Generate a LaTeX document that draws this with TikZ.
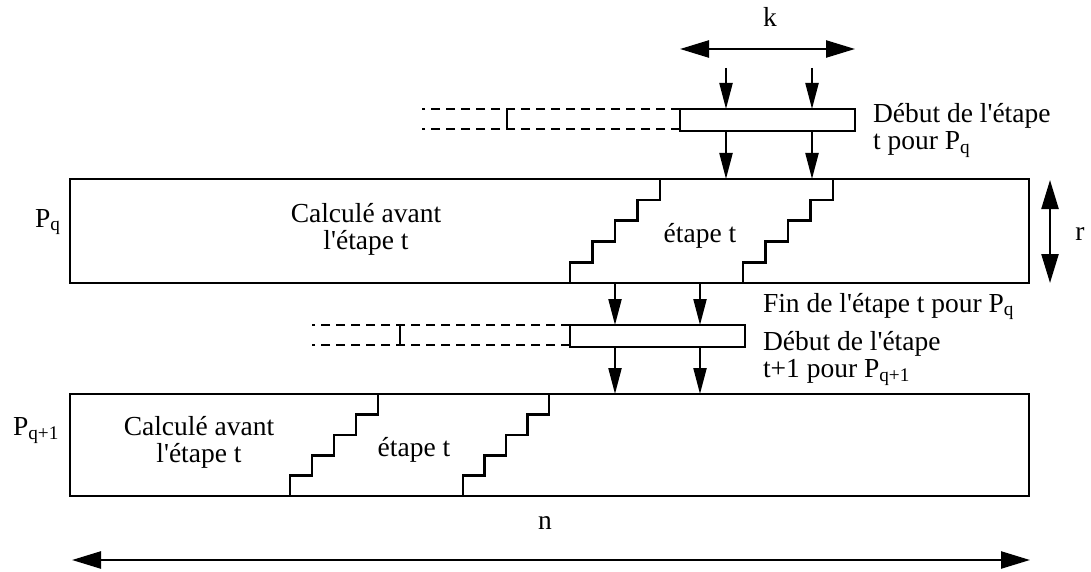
\documentclass[tikz,border=0pt]{standalone}
\usepackage{fontspec}
\setmainfont{Liberation Serif}
\usetikzlibrary{arrows.meta}
\newcommand\apos{\textquotesingle}
\newcommand\stairpath[4]{% xbottom xtop ybottom ytop
  \draw[stair] (#1,#3) \foreach \i in {1,...,4} { -- ++(0,{-(#3-#4)/5}) -- ++({(#2-#1)/4},0) } -- ++(0,{-(#3-#4)/5});
}
\tikzset{
  bigbox/.style={draw,line width=2.6pt,rectangle,inner sep=0pt,outer sep=0pt,minimum width=959pt,minimum height=104pt},
  smallbox/.style={draw,line width=2.4pt,rectangle,inner sep=0pt,outer sep=0pt,minimum width=175pt,minimum height=22pt},
  flow/.style={line width=2.2pt,-{Triangle[length=26pt,width=13pt]}},
  dim/.style={line width=2.4pt,{Triangle[length=29pt,width=17pt]}-{Triangle[length=29pt,width=17pt]}},
  dsh/.style={line width=2.2pt,dash pattern=on 9pt off 6pt},
  joint/.style={line width=2.2pt},
  stair/.style={line width=2.6pt},
  lbl/.style={inner sep=0pt,outer sep=0pt,font=\fontsize{27.5}{27.5}\selectfont},
}
\begin{document}
\begin{tikzpicture}[x=1pt,y=-1pt]
\useasboundingbox (0,0) rectangle (1091,572);

% main boxes
\node[bigbox] (pq) at (549.5,231) {};
\node[bigbox,minimum height=102pt] (pq1) at (549.5,445) {};
% small boxes
\node[smallbox] (sb1) at (767.5,120) {};
\node[smallbox] (sb2) at (657.5,336) {};

% dashed extensions
\draw[dsh] (sb1.north west) -- ++(-258,0);
\draw[dsh] (sb1.south west) ++(0,-2) -- ++(-258,0);
\draw[joint] (507,109) -- (507,129);
\draw[dsh] (sb2.north west) -- ++(-258,0);
\draw[dsh] (sb2.south west) ++(0,-2) -- ++(-258,0);
\draw[joint] (400,325) -- (400,345);

% stairs
\stairpath{570}{660}{283}{179}
\stairpath{743}{833}{283}{179}
\stairpath{290}{378}{496}{394}
\stairpath{463}{549}{496}{394}

% flow arrows
\coordinate (a1) at (726,68);
\coordinate (a2) at (812,68);
\draw[flow] (a1) -- (a1 |- sb1.north);
\draw[flow] (a2) -- (a2 |- sb1.north);
\draw[flow] (a1 |- sb1.south) -- (a1 |- pq.north);
\draw[flow] (a2 |- sb1.south) -- (a2 |- pq.north);
\coordinate (b1) at (615,300);
\coordinate (b2) at (700,300);
\draw[flow] (b1 |- pq.south) -- (b1 |- sb2.north);
\draw[flow] (b2 |- pq.south) -- (b2 |- sb2.north);
\draw[flow] (b1 |- sb2.south) -- (b1 |- pq1.north);
\draw[flow] (b2 |- sb2.south) -- (b2 |- pq1.north);

% dimension arrows
\coordinate (kL) at (680,49);
\coordinate (kR) at (855,49);
\draw[dim] (kL) -- (kR);
\coordinate (rT) at (1050,180);
\coordinate (rB) at (1050,283);
\draw[dim] (rT) -- (rB);
\coordinate (nL) at (72,560);
\coordinate (nR) at (1030,560);
\draw[dim] (nL) -- (nR);

% labels
\node[lbl,anchor=base] (k) at (770,27) {k};
\node[lbl,anchor=base] (r) at (1080,240) {r};
\node[lbl,anchor=base] (n) at (545,529) {n};
\node[lbl,anchor=base west] (lpq) at (35,227) {P\textsubscript{q}};
\node[lbl,anchor=base west] (lpq1) at (13,435) {P\textsubscript{q+1}};
\node[lbl,anchor=north,align=center] (c1) at (366,203) {Calculé avant\\l\apos étape t};
\node[lbl,anchor=north,align=center] (c2) at (199,416) {Calculé avant\\l\apos étape t};
\node[lbl,anchor=base] (e1) at (700,242) {étape t};
\node[lbl,anchor=base] (e2) at (414,456) {étape t};
\node[lbl,anchor=north west,align=left] (d1) at (873,103) {Début de l\apos étape\\t pour P\textsubscript{q}};
\node[lbl,anchor=base west] (f1) at (763,312) {Fin de l\apos étape t pour P\textsubscript{q}};
\node[lbl,anchor=north west,align=left] (d2) at (763,331) {Début de l\apos étape\\t+1 pour P\textsubscript{q+1}};
\end{tikzpicture}
\end{document}
